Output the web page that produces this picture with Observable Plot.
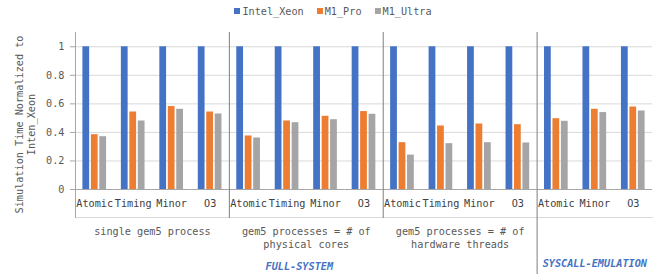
<!DOCTYPE html>
<html><head><meta charset="utf-8">
<script src="https://cdn.jsdelivr.net/npm/d3@7"></script>
<script src="https://cdn.jsdelivr.net/npm/@observablehq/plot@0.6"></script>
<style>
body{margin:0;background:#fff;font-family:"DejaVu Sans Mono",monospace;}
#legend{height:22px;width:658px;box-sizing:border-box;padding-left:8px;display:flex;justify-content:center;align-items:center;gap:13px;font-size:10.2px;color:#595959;}
#legend .item{display:flex;align-items:center;}
#legend .sw{display:inline-block;width:6px;height:6px;margin-right:2px;}
</style></head><body>
<div id="legend"></div>
<div id="chart"></div>
<script>
const series = ["Intel_Xeon", "M1_Pro", "M1_Ultra"];
const colors = ["#4472C4", "#ED7D31", "#A5A5A5"];
const groupCategories = [
  ["Atomic", "Timing", "Minor", "O3"],
  ["Atomic", "Timing", "Minor", "O3"],
  ["Atomic", "Timing", "Minor", "O3"],
  ["Atomic", "Minor", "O3"]
];
const groupLabels = ["single gem5 process", "gem5 processes = # of\nphysical cores", "gem5 processes = # of\nhardware threads", ""];
const modeLabels = ["FULL-SYSTEM", "SYSCALL-EMULATION"];
const groupMode = [0, 0, 0, 1];
const intelXeon = [1, 1, 1, 1, 1, 1, 1, 1, 1, 1, 1, 1, 1, 1, 1];
const m1Pro = [0.384, 0.543, 0.581, 0.543, 0.375, 0.48, 0.513, 0.546, 0.328, 0.445, 0.459, 0.454, 0.496, 0.562, 0.578];
const m1Ultra = [0.37, 0.48, 0.562, 0.529, 0.361, 0.468, 0.489, 0.527, 0.241, 0.321, 0.328, 0.326, 0.478, 0.539, 0.55];
const yTicks = [0, 0.2, 0.4, 0.6, 0.8, 1];
const yTitle = ["Simulation Time Normalized to", "Inten_Xeon"];

// legend
const legend = document.getElementById("legend");
series.forEach((s, i) => {
  const it = document.createElement("span");
  it.className = "item";
  it.innerHTML = `<span class="sw" style="background:${colors[i]}"></span>${s}`;
  legend.appendChild(it);
});

// tables
const cats = [];
groupCategories.forEach((cs, g) => cs.forEach((c, i) => cats.push({key: `${g}|${c}`, g, cat: c, i})));
const keys = cats.map(d => d.key);
const valueArrays = [intelXeon, m1Pro, m1Ultra];
const rows = [];
cats.forEach((d, j) => valueArrays.forEach((arr, s) => rows.push({key: d.key, series: series[s], value: arr[j]})));

// anchor a label at the middle of a span of facets
function spanAnchor(spanKeys) {
  const n = spanKeys.length;
  if (n % 2 === 0) return {key: spanKeys[n / 2 - 1], frameAnchor: "bottom-right"};
  return {key: spanKeys[Math.floor(n / 2)], frameAnchor: "bottom"};
}

const labelMarks = [];
groupLabels.forEach((t, g) => {
  if (!t) return;
  const a = spanAnchor(cats.filter(d => d.g === g).map(d => d.key));
  labelMarks.push(Plot.text([{key: a.key, t}], {fx: "key", text: "t", frameAnchor: a.frameAnchor, textAnchor: "middle", lineAnchor: "top", dy: 36, lineHeight: 1.3, fill: "#595959"}));
});
modeLabels.forEach((t, m) => {
  const a = spanAnchor(cats.filter(d => groupMode[d.g] === m).map(d => d.key));
  labelMarks.push(Plot.text([{key: a.key, t}], {fx: "key", text: "t", frameAnchor: a.frameAnchor, textAnchor: "middle", lineAnchor: "top", dy: m === 0 ? 73 : 70, dx: m === 0 ? -7 : 0, fill: "#4472C4", fontWeight: "bold", fontStyle: "italic"}));
});

const sepMarks = groupCategories.map((cs, g) => Plot.frame({
  anchor: "left", fx: `${g}|${cs[0]}`,
  stroke: g === 0 ? "#a6a6a6" : "#7f7f7f",
  insetBottom: g === groupCategories.length - 1 ? -85 : -28
}));

const chart = Plot.plot({
  width: 658, height: 252,
  marginTop: 10, marginBottom: 85, marginLeft: 75, marginRight: 6,
  style: {fontFamily: "DejaVu Sans Mono", fontSize: "10.2px", background: "white", color: "#404040"},
  fx: {domain: keys, padding: 0, round: false, axis: null, label: null},
  x: {domain: series, paddingInner: 0.2, paddingOuter: 0.875, round: false, axis: null},
  y: {domain: [0, 1.1], axis: null},
  color: {domain: series, range: colors},
  marks: [
    Plot.ruleY(yTicks.slice(1), {stroke: "#d9d9d9"}),
    Plot.barY(rows, {fx: "key", x: "series", y: "value", fill: "series"}),
    Plot.ruleY([0], {stroke: "#a6a6a6"}),
    Plot.frame({anchor: "bottom", insetBottom: -28, stroke: "#d9d9d9"}),
    ...sepMarks,
    Plot.axisY({ticks: yTicks, tickSize: 5, tickPadding: 6, tickFormat: d => String(d), label: null, stroke: "#a6a6a6", fill: "#595959"}),
    Plot.text(cats, {fx: "key", text: "cat", frameAnchor: "bottom", lineAnchor: "top", dy: 10, fill: "#404040"}),
    ...labelMarks,
    Plot.text([{key: keys[0], t: yTitle[0]}], {fx: "key", text: "t", frameAnchor: "left", textAnchor: "middle", rotate: -90, lineAnchor: "middle", dx: -56, dy: 13.5, fill: "#595959"}),
    Plot.text([{key: keys[0], t: yTitle[1]}], {fx: "key", text: "t", frameAnchor: "left", textAnchor: "middle", rotate: -90, lineAnchor: "middle", dx: -44, dy: 13.5, fill: "#595959"})
  ]
});
document.getElementById("chart").appendChild(chart);
</script>
</body></html>
